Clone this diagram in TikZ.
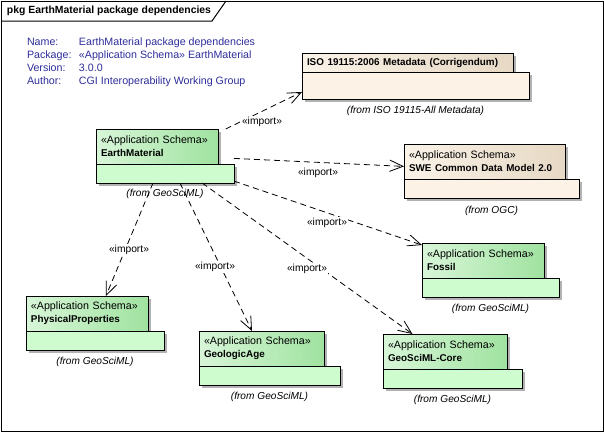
\documentclass[tikz,border=0pt]{standalone}
\usepackage{fontspec}
\setmainfont{Liberation Sans}
\usetikzlibrary{arrows.meta,fit,shadows}

\definecolor{eablue}{RGB}{45,45,155}
\definecolor{grnlt}{RGB}{216,246,216}
\definecolor{grndk}{RGB}{160,226,160}
\definecolor{grnbody}{RGB}{206,252,206}
\definecolor{bgelt}{RGB}{250,243,232}
\definecolor{bgedk}{RGB}{230,216,196}
\definecolor{bgebody}{RGB}{252,243,230}

\newcommand\pkgname[1]{{\fontsize{7.4}{9.75}\selectfont\bfseries #1}}

\begin{document}
\begin{tikzpicture}[x=0.75pt, y=-0.75pt,
  every node/.style={font=\fontsize{8}{9.75}\selectfont, inner sep=0pt, outer sep=0pt},
  pkgshadow/.style={general shadow={fill=black!30, shadow xshift=2pt, shadow yshift=-2pt}},
  tabg/.style={draw, line width=0.6pt, left color=grnlt, right color=grndk, anchor=north west,
    align=left, inner xsep=3.75pt, minimum height=26.25pt, pkgshadow},
  bodyg/.style={draw, line width=0.6pt, fill=grnbody, anchor=north west, minimum height=14.25pt, pkgshadow},
  tabb/.style={tabg, left color=bgelt, right color=bgedk},
  bodyb/.style={bodyg, fill=bgebody},
  fromlbl/.style={font=\fontsize{7.6}{9}\selectfont\itshape},
  implbl/.style={fill=white, inner sep=1pt, font=\fontsize{7.7}{9}\selectfont},
  imp/.style={line width=0.6pt, dash pattern=on 4.5pt off 3pt,
    -{Straight Barb[length=10pt, width=8.5pt]}}
]
\useasboundingbox (0,0) rectangle (604,432);

% frame
\draw[line width=0.75pt] (1,1) rectangle (603,431);
\draw[line width=0.75pt] (1,21) -- (212,21) -- (226,1);
\node[anchor=west, font=\fontsize{7.8}{9}\selectfont\bfseries] (title) at (7,11) {pkg EarthMaterial package dependencies};

% notes
\node[anchor=north west, text=eablue] (notes) at (27,36.6) {%
  \begin{tabular}{@{}p{39pt}@{}l@{}}
  Name: & EarthMaterial package dependencies\\
  Package: & «Application Schema» EarthMaterial\\
  Version: & 3.0.0\\
  Author: & CGI Interoperability Working Group
  \end{tabular}};

% EarthMaterial
\node[tabg, text width=84pt] (emt) at (96,129) {«Application Schema»\\\pkgname{EarthMaterial}};
\node[bodyg, minimum width=103.5pt] (emb) at (emt.south west) {};
\node[fit=(emt)(emb)] (em) {};
\node[fromlbl] (emf) at ([yshift=-8.5pt]emb.south) {(from GeoSciML)};

% ISO 19115
\node[tabb, text width=150.75pt, minimum height=14.25pt] (isot) at (302,53) {\pkgname{ISO 19115:2006 Metadata (Corrigendum)}};
\node[bodyb, minimum width=170.25pt, minimum height=20.25pt] (isob) at (isot.south west) {};
\node[fit=(isot)(isob)] (iso) {};
\node[fromlbl] (isof) at ([yshift=-9pt]isob.south) {(from ISO 19115-All Metadata)};

% SWE Common
\node[tabb, text width=113.25pt] (swet) at (404,144) {«Application Schema»\\\pkgname{SWE Common Data Model 2.0}};
\node[bodyb, minimum width=131.25pt] (sweb) at (swet.south west) {};
\node[fit=(swet)(sweb)] (swe) {};
\node[fromlbl] (swef) at ([yshift=-9.5pt]sweb.south) {(from OGC)};

% Fossil
\node[tabg, text width=84pt] (fost) at (422,243) {«Application Schema»\\\pkgname{Fossil}};
\node[bodyg, minimum width=102.75pt] (fosb) at (fost.south west) {};
\node[fit=(fost)(fosb)] (fos) {};
\node[fromlbl] (fosf) at ([yshift=-9pt]fosb.south) {(from GeoSciML)};

% GeoSciML-Core
\node[tabg, text width=85.5pt] (coret) at (383,334) {«Application Schema»\\\pkgname{GeoSciML-Core}};
\node[bodyg, minimum width=104.25pt] (coreb) at (coret.south west) {};
\node[fit=(coret)(coreb)] (core) {};
\node[fromlbl] (coref) at ([yshift=-9pt]coreb.south) {(from GeoSciML)};

% GeologicAge
\node[tabg, text width=86.25pt] (gat) at (199,331) {«Application Schema»\\\pkgname{GeologicAge}};
\node[bodyg, minimum width=105.75pt] (gab) at (gat.south west) {};
\node[fit=(gat)(gab)] (ga) {};
\node[fromlbl] (gaf) at ([yshift=-9pt]gab.south) {(from GeoSciML)};

% PhysicalProperties
\node[tabg, text width=84pt] (phyt) at (26,296) {«Application Schema»\\\pkgname{PhysicalProperties}};
\node[bodyg, minimum width=103.5pt] (phyb) at (phyt.south west) {};
\node[fit=(phyt)(phyb)] (phy) {};
\node[fromlbl] (phyf) at ([yshift=-9pt]phyb.south) {(from GeoSciML)};

% imports
\draw[imp] (em.24) -- (iso.188);
\draw[imp] (em.-2) -- (swe.177);
\draw[imp] (em.-20) -- (fos.160);
\draw[imp] (em.-36) -- (core.146);
\draw[imp] (em.-61) -- (ga.123);
\draw[imp] (em.-114) -- (phy.68);

\node[implbl] (imp1) at (262,122) {«import»};
\node[implbl] (imp2) at (318,173) {«import»};
\node[implbl] (imp3) at (327,223) {«import»};
\node[implbl] (imp4) at (307,269) {«import»};
\node[implbl] (imp5) at (215,267) {«import»};
\node[implbl] (imp6) at (129,250) {«import»};

\end{tikzpicture}
\end{document}
